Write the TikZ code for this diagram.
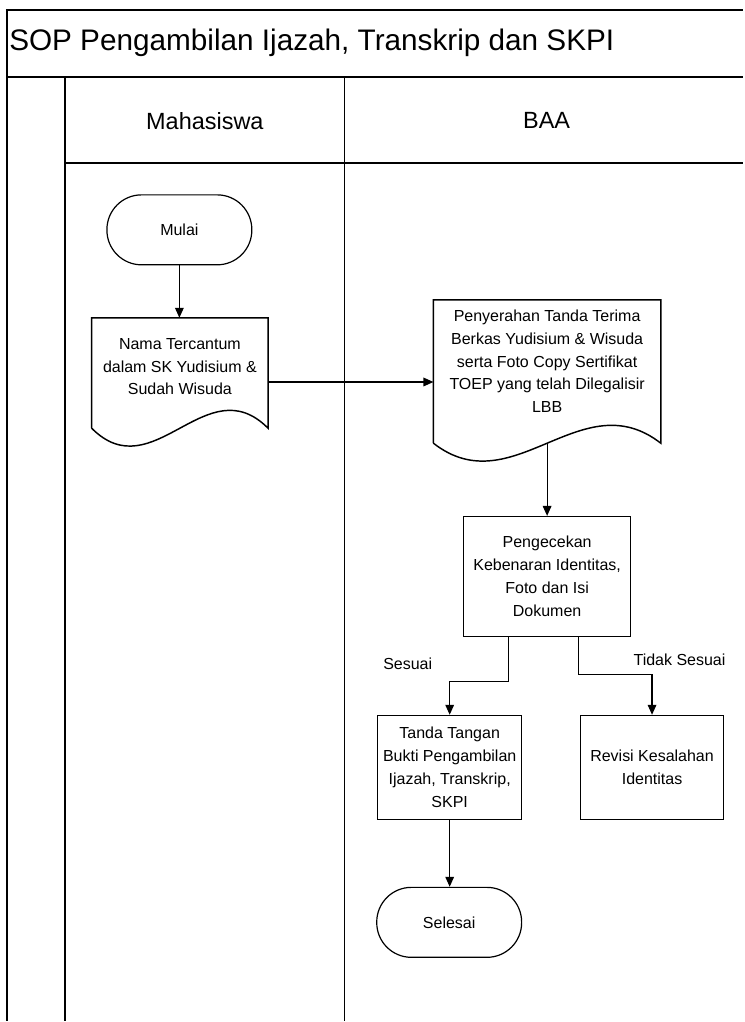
\documentclass[tikz,border=0pt]{standalone}
\usepackage{fontspec}
\setmainfont{Liberation Sans}
\usetikzlibrary{arrows.meta,calc}

\begin{document}
\begin{tikzpicture}[x=0.75pt, y=-0.75pt,
  every node/.style={font=\fontsize{12}{17.25}\selectfont, align=center},
  lane/.style={line width=1.1pt},
  arr/.style={line width=0.9pt, -{Triangle[length=7.5pt,width=6.5pt]}},
  term/.style={draw, line width=0.9pt, rounded corners=26pt, minimum width=108.75pt, minimum height=52.5pt, inner sep=0pt},
  proc/.style={draw, line width=1.1pt, inner sep=0pt},
  doc/.style={inner sep=0pt, anchor=north}] % SOP Ijazah
\newcommand{\DocShape}[1]{\draw[line width=1.1pt] (#1.south west) -- (#1.north west) -- (#1.north east) -- (#1.south east) .. controls ($(#1.south east)!0.35!(#1.south west)+(0,-62)$) and ($(#1.south east)!0.65!(#1.south west)+(0,62)$) .. (#1.south west);}
\fill[white] (0,0) rectangle (744,1022);
% swimlanes
\draw[line width=2.2pt] (6,10) -- (744,10);
\draw[lane] (7,10) -- (7,1022);
\draw[lane] (7,77) -- (744,77);
\draw[lane] (65,77) -- (65,1022);
\draw[lane] (345,77) -- (345,1022);
\draw[lane] (65,163) -- (744,163);
\node[anchor=base west, inner sep=0pt, font=\fontsize{22.3}{26}\selectfont] (judul) at (9,51) {SOP Pengambilan Ijazah, Transkrip dan SKPI};
\node[font=\fontsize{17.6}{20}\selectfont] (mhs) at (205,121) {Mahasiswa};
\node[font=\fontsize{17.6}{20}\selectfont] (baa) at (547,121) {BAA};
% flow
\node[term] (mulai) at (179.5,230) {Mulai};
\node[doc, minimum width=132pt, text height=57.75pt, text depth=24.75pt] (nama) at (180,318) {Nama Tercantum\\dalam SK Yudisium \&\\Sudah Wisuda};
\DocShape{nama}
\node[doc, minimum width=170.25pt, text height=84.75pt, text depth=22.5pt] (serah) at (547.5,300) {Penyerahan Tanda Terima\\Berkas Yudisium \& Wisuda\\serta Foto Copy Sertifikat\\TOEP yang telah Dilegalisir\\LBB};
\DocShape{serah}
\node[proc, minimum width=125.25pt, minimum height=90pt] (cek) at (547.5,577) {Pengecekan\\Kebenaran Identitas,\\Foto dan Isi\\Dokumen};
\node[proc, minimum width=108pt, minimum height=78pt] (ttd) at (450,768) {Tanda Tangan\\Bukti Pengambilan\\Ijazah, Transkrip,\\SKPI};
\node[proc, minimum width=107.25pt, minimum height=78pt] (revisi) at (652.5,768) {Revisi Kesalahan\\Identitas};
\node[term] (selesai) at (449.5,923) {Selesai};
\node (sesuai) at (408,664) {Sesuai};
\node (tidak) at (680,660) {Tidak Sesuai};
\draw[arr] (mulai) -- (mulai |- nama.north);
\draw[arr] ($(nama.east)+(0,9)$) -- ($(nama.east -| serah.west)+(0,9)$);
\draw[arr] (serah.south) -- (cek.north);
\draw[arr] ([xshift=-28.9pt]cek.south) -- ++(0,44) -| (ttd.north);
\draw[arr] ([xshift=23.6pt]cek.south) -- ++(0,37) -| (revisi.north);
\draw[arr] (ttd) -- (ttd |- selesai.north);
\useasboundingbox (0,0) rectangle (744,1022);
\end{tikzpicture}
\end{document}
